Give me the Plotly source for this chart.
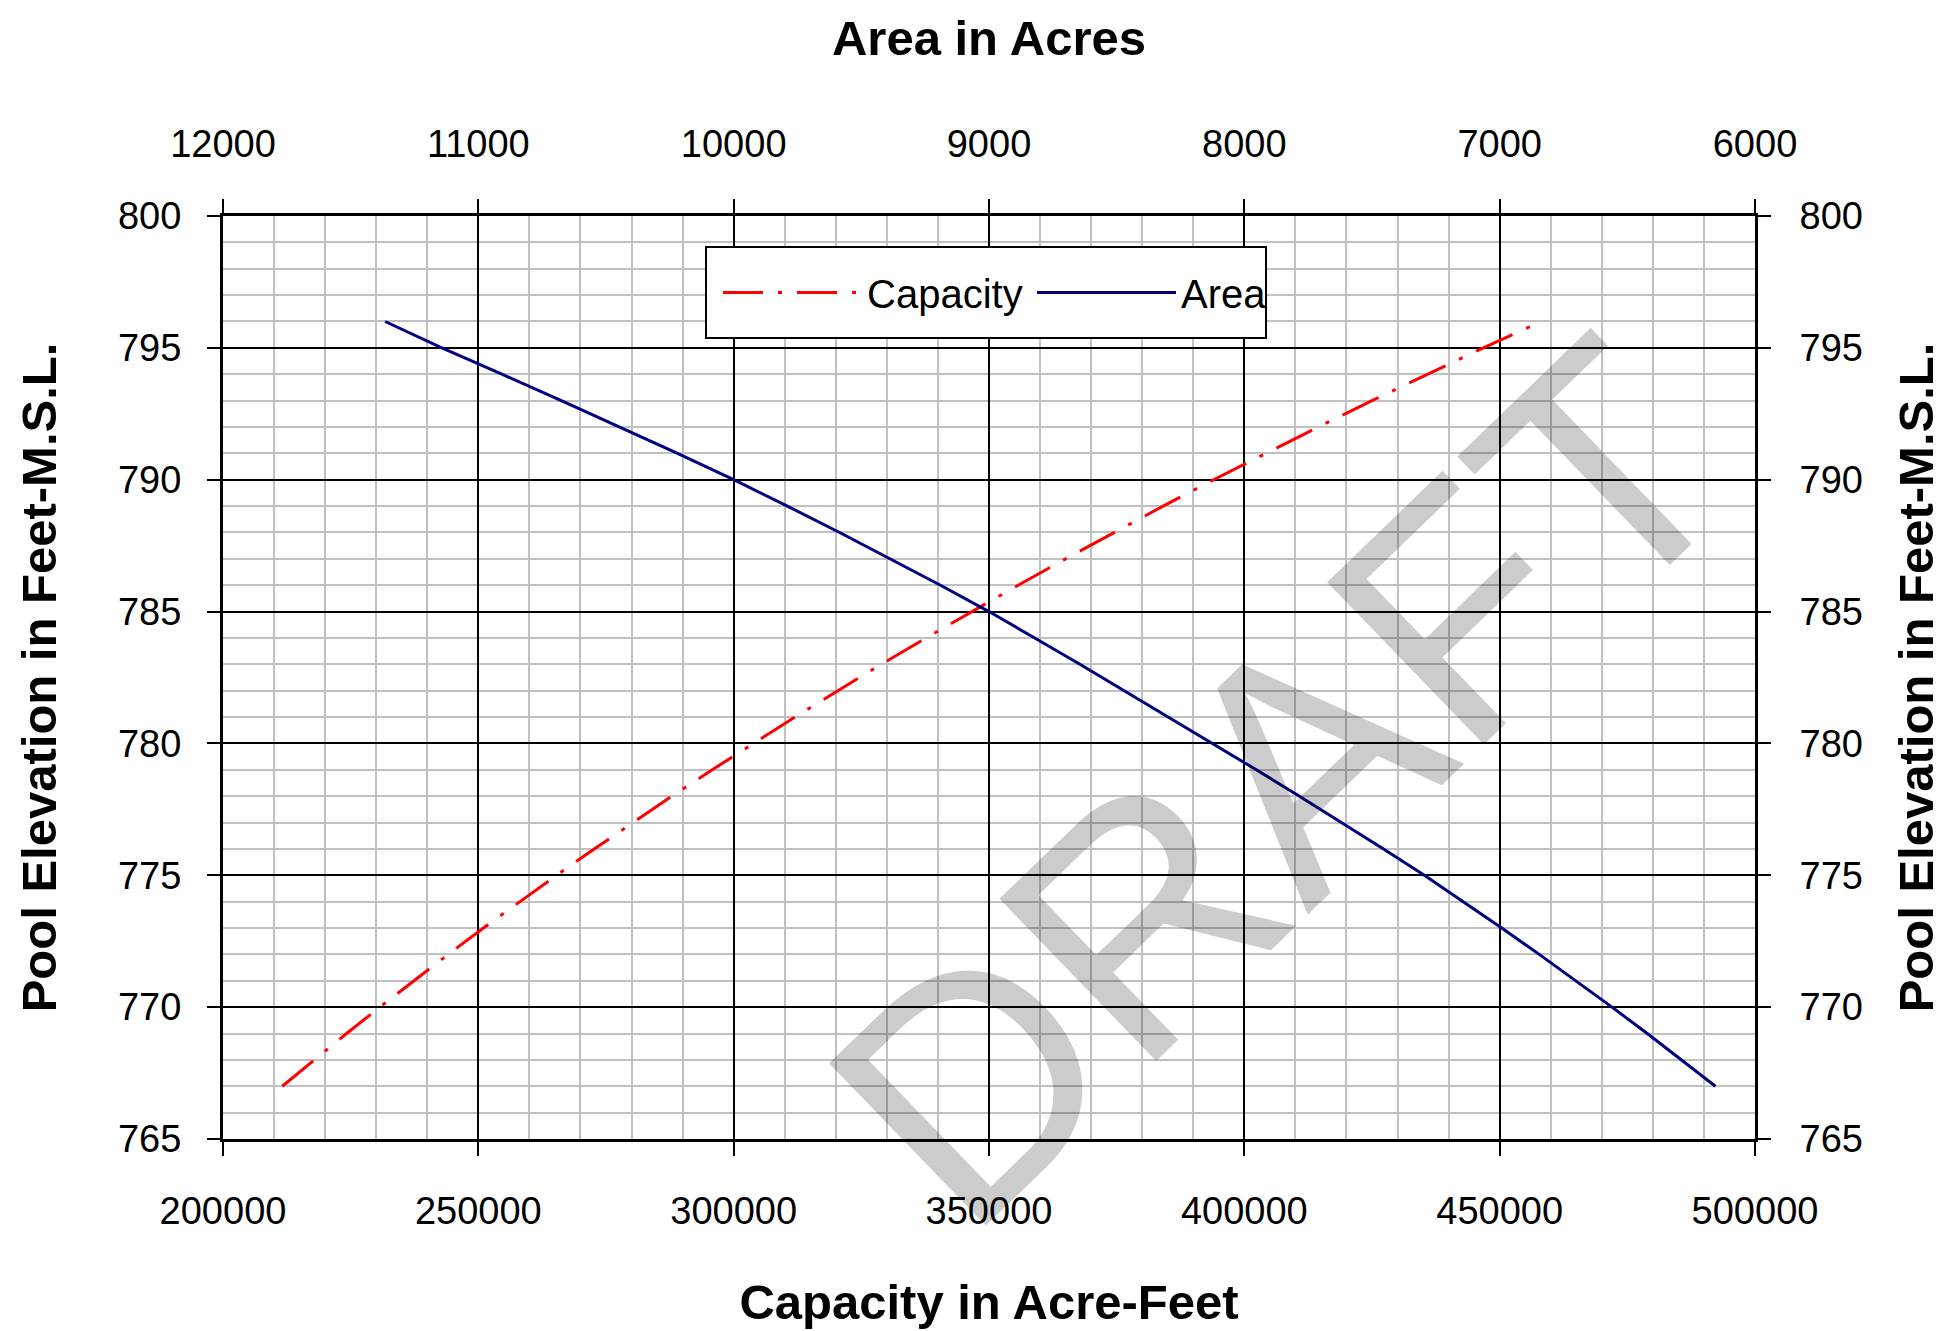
import plotly.graph_objects as go

elevation = [767, 768, 769, 770, 771, 772, 773, 774, 775, 776, 777, 778, 779, 780,
             781, 782, 783, 784, 785, 786, 787, 788, 789, 790, 791, 792, 793, 794, 795, 796]
capacity = [211600, 217800, 224200, 230700, 237300, 244100, 251000, 258100, 265300,
            272700, 280200, 287900, 295800, 303800, 312000, 320400, 328900, 337700,
            346600, 355700, 365000, 374500, 384100, 394000, 404100, 414500, 425000,
            435800, 446800, 458100]
area = [6155, 6287, 6422, 6560, 6701, 6845, 6992, 7142, 7295, 7455, 7618, 7784, 7953,
        8125, 8296, 8469, 8644, 8821, 9000, 9190, 9385, 9585, 9790, 10000, 10220,
        10445, 10675, 10908, 11143, 11365]

# page has an 8px body margin; figure sized so plot area lands at 223..1755 x 216..1139
W, H = 1935, 1323
L, R, T, B = 215, 1747, 208, 1131
PW, PH = R - L, B - T
FONT = "Arial, Liberation Sans, sans-serif"

def px(xp):
    return (xp - 8 - L) / PW

def py(yp):
    return (B - (yp - 8)) / PH

fig = go.Figure()
fig.add_trace(go.Scatter(x=capacity, y=elevation, name="Capacity", mode="lines",
                         line=dict(color="#ff0000", width=3, dash="40px,15px,4px,15px"),
                         xaxis="x", yaxis="y"))
fig.add_trace(go.Scatter(x=area, y=elevation, name="Area", mode="lines",
                         line=dict(color="#000080", width=3),
                         xaxis="x2", yaxis="y2"))

tick_font = dict(family=FONT, size=38, color="black")
title_font = dict(family=FONT, size=49, color="black")

common_x = dict(ticks="outside", ticklen=14, tickwidth=2, tickcolor="black",
                showline=True, linecolor="black", linewidth=3, zeroline=False,
                tickfont=tick_font, tickformat="d", automargin=False)
common_y = dict(range=[765, 800], dtick=5, tick0=0, ticks="outside", ticklen=13,
                tickwidth=2, tickcolor="black", showline=True, linecolor="black",
                linewidth=3, zeroline=False, tickfont=tick_font, tickformat="d",
                automargin=False)

fig.update_layout(
    width=W, height=H,
    margin=dict(l=L, r=W - R, t=T, b=H - B, pad=0),
    paper_bgcolor="white", plot_bgcolor="white",
    showlegend=True,
    legend=dict(orientation="h", x=px(718), y=py(292.5),
                xanchor="left", yanchor="middle", bgcolor="rgba(0,0,0,0)",
                borderwidth=0,
                font=dict(family=FONT, size=40, color="black"),
                entrywidth=160, itemwidth=139),
    xaxis=dict(range=[200000, 500000], dtick=50000, tick0=0,
               showgrid=True, gridcolor="black", gridwidth=2,
               minor=dict(dtick=10000, showgrid=True, gridcolor="#c0c0c0", gridwidth=2),
               mirror=True, ticklabelstandoff=22,
               title=dict(text="<b>Capacity in Acre-Feet</b>", font=title_font, standoff=55),
               **common_x),
    xaxis2=dict(range=[12000, 6000], dtick=1000, tick0=0, overlaying="x", side="top",
                showgrid=False, ticklabelstandoff=27,
                title=dict(text="<b>Area in Acres</b>", font=title_font, standoff=52),
                **common_x),
    yaxis=dict(showgrid=True, gridcolor="black", gridwidth=2,
               minor=dict(dtick=1, showgrid=True, gridcolor="#c0c0c0", gridwidth=2),
               mirror=True, ticklabelstandoff=18,
               title=dict(text="<b>Pool Elevation in Feet-M.S.L.</b>", font=title_font, standoff=46),
               **common_y),
    yaxis2=dict(overlaying="y", side="right", showgrid=False, ticklabelstandoff=21,
                title=dict(text="<b>Pool Elevation in Feet-M.S.L.</b>", font=title_font, standoff=38),
                **common_y),
)

# legend frame (opaque box as in the reference)
fig.add_shape(type="rect", xref="paper", yref="paper",
              x0=px(706), x1=px(1266), y0=py(338), y1=py(247),
              fillcolor="white", line=dict(color="black", width=2), layer="above")

# DRAFT watermark
fig.add_annotation(text="DRAFT", xref="paper", yref="paper",
                   x=px(1280), y=py(783), xanchor="center", yanchor="middle",
                   showarrow=False, textangle=-44,
                   font=dict(family=FONT, size=328, color="rgba(0,0,0,0.2)"))

fig.write_html("out.html")
